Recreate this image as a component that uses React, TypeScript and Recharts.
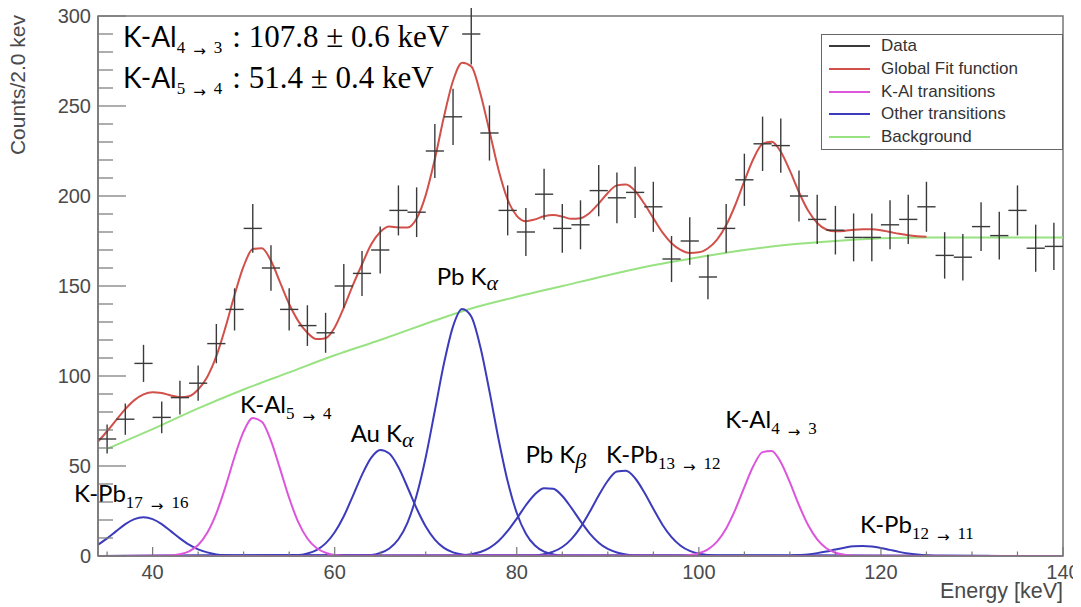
import React from 'react';
import {
  ComposedChart,
  Line,
  Scatter,
  ErrorBar,
  XAxis,
  YAxis,
  ReferenceArea,
  ReferenceDot,
  Legend,
} from 'recharts';

// ---------------- data ----------------
const BIN_CENTERS = [
  35, 37, 39, 41, 43, 45, 47, 49, 51, 53, 55, 57, 59, 61, 63, 65, 67, 69, 71, 73, 75, 77, 79, 81, 83, 85,
  87, 89, 91, 93, 95, 97, 99, 101, 103, 105, 107, 109, 111, 113, 115, 117, 119, 121, 123, 125, 127, 129,
  131, 133, 135, 137, 139,
];
const COUNTS = [
  65, 76, 107, 77, 88, 96, 118, 137, 182, 160, 137, 128, 124, 150, 157, 170, 192, 191, 225, 244, 290, 235,
  192, 180, 201, 182, 184, 203, 199, 202, 194, 165, 175, 155, 182, 209, 229, 228, 200, 187, 181, 177, 177,
  184, 187, 194, 167, 166, 183, 178, 192, 171, 172,
];
const COUNT_ERRORS = [
  8.1, 8.7, 10.3, 8.8, 9.4, 9.8, 10.9, 11.7, 13.5, 12.6, 11.7, 11.3, 11.1, 12.2, 12.5, 13.0, 13.9, 13.8,
  15.0, 15.6, 17.0, 15.3, 13.9, 13.4, 14.2, 13.5, 13.6, 14.2, 14.1, 14.2, 13.9, 12.8, 13.2, 12.4, 13.5,
  14.5, 15.1, 15.1, 14.1, 13.7, 13.5, 13.3, 13.3, 13.6, 13.7, 13.9, 12.9, 12.9, 13.5, 13.3, 13.9, 13.1, 13.1,
];
const BIN_HALF_WIDTH = 1;

const FIT_ENERGY = [
  34, 35, 36, 37, 38, 39, 40, 41, 42, 43, 44, 45, 46, 47, 48, 49, 50, 51, 52, 53, 54, 55, 56, 57, 58, 59,
  60, 61, 62, 63, 64, 65, 66, 67, 68, 69, 70, 71, 72, 73, 74, 75, 76, 77, 78, 79, 80, 81, 82, 83, 84, 85,
  86, 87, 88, 89, 90, 91, 92, 93, 94, 95, 96, 97, 98, 99, 100, 101, 102, 103, 104, 105, 106, 107, 108, 109,
  110, 111, 112, 113, 114, 115, 116, 117, 118, 119, 120, 121, 122, 123, 124, 125,
];
const FIT_COUNTS = [
  63.5, 69.3, 75.5, 81.6, 86.6, 89.8, 91.0, 90.5, 89.2, 88.2, 88.8, 92.5, 99.5, 111, 127, 145, 161, 170.5,
  171, 164, 152, 140, 130.5, 124, 120.5, 121, 127, 138, 150.5, 162, 173, 180, 183, 182.5, 182.5, 187.5,
  200.5, 220.5, 244, 264, 274, 272, 257, 236, 214.5, 198, 189, 186, 187, 188.7, 189.4, 188.6, 187.3, 187.7,
  190.6, 195.8, 201.7, 205.9, 206.4, 202.8, 195.8, 187.7, 179.8, 173.8, 170.1, 168.4, 168.7, 171, 175.8,
  183.7, 195, 208.3, 220.7, 228.9, 230.2, 224.6, 214.1, 202.1, 191.9, 185, 181.4, 180.4, 180.6, 181.2,
  181.5, 181.5, 181, 180, 179, 178.2, 177.7, 177.4,
];

const BACKGROUND: [number, number][] = [
  [35, 59.5], [40, 70.5], [45, 82], [50, 92.5], [55, 102], [60, 111.5], [65, 120], [70, 129], [75, 137.5],
  [80, 144], [85, 150], [90, 156], [95, 161.5], [100, 166], [105, 170], [110, 173], [115, 175], [120, 176.5],
  [125, 177], [130, 177], [135, 177], [140, 177],
];

// K-Al transitions (magenta)
const K_AL_5_4: [number, number][] = [
  [34, 0], [42, 0.3], [43, 0.95], [44, 2.6], [45, 6.1], [46, 12.9], [47, 23.7], [48, 38.4], [49, 55.0],
  [50, 69.2], [51, 76.6], [52, 74.6], [53, 64.0], [54, 48.4], [55, 32.2], [56, 18.8], [57, 9.7], [58, 4.4],
  [59, 1.8], [60, 0.6], [61, 0.2], [140, 0],
];
const K_AL_4_3: [number, number][] = [
  [34, 0], [98, 0.2], [99, 0.5], [100, 1.5], [101, 3.7], [102, 8.0], [103, 15.3], [104, 25.8], [105, 38.3],
  [106, 50.1], [107, 57.7], [108, 58.4], [109, 52.1], [110, 40.9], [111, 28.2], [112, 17.2], [113, 9.2],
  [114, 4.3], [115, 1.8], [116, 0.65], [117, 0.2], [140, 0],
];

// Other transitions (blue)
const K_PB_17_16: [number, number][] = [
  [34, 6.3], [35, 9.8], [36, 13.8], [37, 17.7], [38, 20.5], [39, 21.5], [40, 20.5], [41, 17.7], [42, 13.8],
  [43, 9.8], [44, 6.3], [45, 3.7], [46, 2.0], [47, 0.9], [48, 0.4], [49, 0.2], [140, 0],
];
const AU_K_ALPHA: [number, number][] = [
  [34, 0], [56, 0.5], [57, 1.4], [58, 3.3], [59, 7.0], [60, 13.2], [61, 22.1], [62, 33.4], [63, 45.1],
  [64, 54.5], [65, 58.9], [66, 56.9], [67, 49.3], [68, 38.2], [69, 26.4], [70, 16.4], [71, 9.1], [72, 4.5],
  [73, 2.0], [74, 0.8], [75, 0.3], [140, 0],
];
const PB_K_ALPHA: [number, number][] = [
  [34, 0], [64, 0.6], [65, 1.7], [66, 4.2], [67, 9.3], [68, 18.6], [69, 33.7], [70, 54.9], [71, 80.7],
  [72, 106.9], [73, 127.6], [74, 137.2], [75, 133.0], [76, 116.1], [77, 91.5], [78, 64.9], [79, 41.5],
  [80, 23.9], [81, 12.4], [82, 5.8], [83, 2.4], [84, 0.9], [85, 0.3], [140, 0],
];
const PB_K_BETA: [number, number][] = [
  [34, 0], [73, 0.1], [74, 0.4], [75, 1.0], [76, 2.2], [77, 4.5], [78, 8.3], [79, 13.9], [80, 20.8],
  [81, 28.2], [82, 34.3], [83, 37.7], [84, 37.3], [85, 33.3], [86, 26.7], [87, 19.4], [88, 12.6], [89, 7.4],
  [90, 3.9], [91, 1.9], [92, 0.8], [93, 0.3], [140, 0],
];
const K_PB_13_12: [number, number][] = [
  [34, 0], [82, 0.4], [83, 1.0], [84, 2.4], [85, 5.0], [86, 9.4], [87, 15.9], [88, 24.4], [89, 33.6],
  [90, 41.8], [91, 46.9], [92, 47.4], [93, 43.2], [94, 35.4], [95, 26.2], [96, 17.4], [97, 10.5], [98, 5.7],
  [99, 2.8], [100, 1.2], [101, 0.5], [102, 0.2], [140, 0],
];
const K_PB_12_11: [number, number][] = [
  [34, 0], [109, 0.1], [110, 0.2], [111, 0.5], [112, 0.9], [113, 1.6], [114, 2.5], [115, 3.6], [116, 4.6],
  [117, 5.4], [118, 5.6], [119, 5.3], [120, 4.5], [121, 3.4], [122, 2.3], [123, 1.4], [124, 0.8], [125, 0.4],
  [126, 0.2], [127, 0.1], [140, 0],
];

const X_DOMAIN: [number, number] = [34, 140];
const Y_DOMAIN: [number, number] = [0, 300];
const X_TICKS = [35, 40, 45, 50, 55, 60, 65, 70, 75, 80, 85, 90, 95, 100, 105, 110, 115, 120, 125, 130, 135, 140];
const X_LABEL_TICKS = [40, 60, 80, 100, 120, 140];
const Y_TICKS = [
  0, 10, 20, 30, 40, 50, 60, 70, 80, 90, 100, 110, 120, 130, 140, 150, 160, 170, 180, 190, 200, 210, 220,
  230, 240, 250, 260, 270, 280, 290, 300,
];
const Y_LABEL_TICKS = [0, 50, 100, 150, 200, 250, 300];

// annotation texts (anchor in data units: energy, counts)
const FIT_RESULTS = [
  { x: 36.75, y: 282.8, main: 'K-Al', from: '4', to: '3', text: ': 107.8 \u00b1 0.6 keV' },
  { x: 36.75, y: 260.2, main: 'K-Al', from: '5', to: '4', text: ': 51.4 \u00b1 0.4 keV' },
];
const TRANSITION_LABELS = [
  { x: 31.36, y: 30.2, main: 'K-Pb', from: '17', to: '16' },
  { x: 49.6, y: 79.6, main: 'K-Al', from: '5', to: '4' },
  { x: 89.8, y: 51.5, main: 'K-Pb', from: '13', to: '12' },
  { x: 102.9, y: 71.1, main: 'K-Al', from: '4', to: '3' },
  { x: 117.7, y: 12.8, main: 'K-Pb', from: '12', to: '11' },
];
const LINE_LABELS = [
  { x: 61.75, y: 63.5, main: 'Au K', greek: '\u03b1' },
  { x: 71.2, y: 150.6, main: 'Pb K', greek: '\u03b1' },
  { x: 80.95, y: 51.5, main: 'Pb K', greek: '\u03b2' },
];

// ---------------- styles ----------------
const DATA_COLOR = '#3a3a3a';
const FIT_COLOR = '#d2504a';
const KAL_COLOR = '#dc56dc';
const OTHER_COLOR = '#3b3bbb';
const BG_COLOR = '#98e282';
const AXIS_COLOR = '#777';
const TICK_TEXT = '#4a4a4a';
const ROOT_FONT = '"Liberation Sans", Arial, Helvetica, sans-serif';
const LABEL_FONT = 'Lato, "Open Sans", sans-serif';
const SERIF = '"Liberation Serif", "DejaVu Serif", serif';
const ARROW_FONT = '"DejaVu Sans", sans-serif';

const LEGEND_ITEMS = [
  { label: 'Data', color: DATA_COLOR },
  { label: 'Global Fit function', color: FIT_COLOR },
  { label: 'K-Al transitions', color: KAL_COLOR },
  { label: 'Other transitions', color: OTHER_COLOR },
  { label: 'Background', color: BG_COLOR },
];

const toPoints = (pairs: [number, number][]) => pairs.map(([x, y]) => ({ x, y }));
const dataPoints = BIN_CENTERS.map((x, i) => ({ x, y: COUNTS[i], ey: COUNT_ERRORS[i], ex: BIN_HALF_WIDTH }));
const fitPoints = FIT_ENERGY.map((x, i) => ({ x, y: FIT_COUNTS[i] }));

const COMPONENTS = [
  { key: 'kpb1716', pts: K_PB_17_16, color: OTHER_COLOR },
  { key: 'aukalpha', pts: AU_K_ALPHA, color: OTHER_COLOR },
  { key: 'pbkalpha', pts: PB_K_ALPHA, color: OTHER_COLOR },
  { key: 'pbkbeta', pts: PB_K_BETA, color: OTHER_COLOR },
  { key: 'kpb1312', pts: K_PB_13_12, color: OTHER_COLOR },
  { key: 'kpb1211', pts: K_PB_12_11, color: OTHER_COLOR },
  { key: 'kal54', pts: K_AL_5_4, color: KAL_COLOR },
  { key: 'kal43', pts: K_AL_4_3, color: KAL_COLOR },
];

// ---------------- renderers ----------------
const renderXTick = (props: any) => {
  const { x, y, payload } = props;
  const major = X_LABEL_TICKS.includes(payload.value);
  return (
    <g>
      <line x1={x} x2={x} y1={y} y2={y - (major ? 9 : 4.5)} stroke={AXIS_COLOR} strokeWidth={1.2} />
      {major && (
        <text x={x} y={y + 22.5} textAnchor="middle" fontFamily={ROOT_FONT} fontSize={20} fill={TICK_TEXT}>
          {payload.value}
        </text>
      )}
    </g>
  );
};

const renderYTick = (props: any) => {
  const { x, y, payload } = props;
  const major = Y_LABEL_TICKS.includes(payload.value);
  return (
    <g>
      <line x1={x} x2={x + (major ? 28 : 15)} y1={y} y2={y} stroke={AXIS_COLOR} strokeWidth={1.2} />
      {major && (
        <text x={x - 7} y={y + 7} textAnchor="end" fontFamily={ROOT_FONT} fontSize={20} fill={TICK_TEXT}>
          {payload.value}
        </text>
      )}
    </g>
  );
};

const renderYTitle = (props: any) => {
  const vb = props.viewBox;
  const x = vb.x + 25;
  const y = vb.y - 1;
  return (
    <text x={x} y={y} transform={`rotate(-90, ${x}, ${y})`} textAnchor="end" fontFamily={ROOT_FONT} fontSize={21} fill={TICK_TEXT}>
      Counts/2.0 kev
    </text>
  );
};

const renderXTitle = (props: any) => {
  const vb = props.viewBox;
  return (
    <text x={vb.x + vb.width} y={vb.y + 42} textAnchor="end" fontFamily={ROOT_FONT} fontSize={21.5} fill={TICK_TEXT}>
      Energy [keV]
    </text>
  );
};

const anchorOf = (props: any) => {
  const vb = props.viewBox || { x: 0, y: 0, width: 0, height: 0 };
  return { x: vb.x + (vb.width || 0) / 2, y: vb.y + (vb.height || 0) / 2 };
};

const transitionLabel = (main: string, from: string, to: string, mainSize: number, tail?: string) => (props: any) => {
  const { x, y } = anchorOf(props);
  return (
    <text x={x} y={y} fontFamily={LABEL_FONT} fontSize={mainSize} fill="#000">
      {main}
      <tspan fontFamily={SERIF} fontSize={17} dy={6}>{from}</tspan>
      <tspan fontFamily={ARROW_FONT} fontSize={15} dx={8} dy={3}>{'\u2192'}</tspan>
      <tspan fontFamily={SERIF} fontSize={17} dx={8} dy={-3}>{to}</tspan>
      {tail && (
        <tspan fontFamily={SERIF} fontSize={31} dx={10} dy={-6}>{tail}</tspan>
      )}
    </text>
  );
};

const greekLabel = (main: string, greek: string) => (props: any) => {
  const { x, y } = anchorOf(props);
  return (
    <text x={x} y={y} fontFamily={LABEL_FONT} fontSize={24} fill="#000">
      {main}
      <tspan fontFamily={SERIF} fontStyle="italic" fontSize={22} dy={5}>{greek}</tspan>
    </text>
  );
};

const renderLegend = () => (
  <div
    style={{
      width: 242,
      height: 116,
      boxSizing: 'border-box',
      border: '1.5px solid #666',
      background: '#fff',
      paddingTop: 0,
    }}
  >
    {LEGEND_ITEMS.map((item) => (
      <div
        key={item.label}
        style={{
          display: 'flex',
          alignItems: 'center',
          height: 22.7,
          fontFamily: ROOT_FONT,
          fontSize: 17,
          color: '#333',
          whiteSpace: 'nowrap',
        }}
      >
        <svg width={59} height={10} style={{ flex: 'none' }}>
          <line x1={7} x2={48} y1={5} y2={5} stroke={item.color} strokeWidth={2} />
        </svg>
        <span>{item.label}</span>
      </div>
    ))}
  </div>
);

const noShape = () => <g />;

export default function App() {
  return (
    <div style={{ width: 1081, height: 607, marginTop: -8, marginLeft: -8, background: '#fff' }}>
      <ComposedChart width={1081} height={607} margin={{ top: 16, right: 18, bottom: 6, left: 0 }}>
        <XAxis
          dataKey="x"
          type="number"
          domain={X_DOMAIN}
          allowDataOverflow
          ticks={X_TICKS}
          interval={0}
          height={45}
          tickLine={false}
          tickSize={0}
          tickMargin={0}
          tick={renderXTick}
          axisLine={{ stroke: AXIS_COLOR, strokeWidth: 1.5 }}
          label={renderXTitle}
        />
        <YAxis
          type="number"
          domain={Y_DOMAIN}
          allowDataOverflow
          ticks={Y_TICKS}
          interval={0}
          width={98}
          tickLine={false}
          tickSize={0}
          tickMargin={0}
          tick={renderYTick}
          axisLine={{ stroke: AXIS_COLOR, strokeWidth: 1.5 }}
          label={renderYTitle}
        />
        <ReferenceArea
          x1={X_DOMAIN[0]}
          x2={X_DOMAIN[1]}
          y1={Y_DOMAIN[0]}
          y2={Y_DOMAIN[1]}
          fill="none"
          fillOpacity={0}
          stroke={AXIS_COLOR}
          strokeWidth={1.5}
          ifOverflow="visible"
        />
        <Line
          data={toPoints(BACKGROUND)}
          dataKey="y"
          type="monotone"
          stroke={BG_COLOR}
          strokeWidth={2}
          dot={false}
          activeDot={false}
          isAnimationActive={false}
        />
        {COMPONENTS.map((c) => (
          <Line
            key={c.key}
            data={toPoints(c.pts)}
            dataKey="y"
            type="monotone"
            stroke={c.color}
            strokeWidth={2}
            dot={false}
            activeDot={false}
            isAnimationActive={false}
          />
        ))}
        <Line
          data={fitPoints}
          dataKey="y"
          type="monotone"
          stroke={FIT_COLOR}
          strokeWidth={2}
          dot={false}
          activeDot={false}
          isAnimationActive={false}
        />
        <Scatter data={dataPoints} dataKey="y" shape={noShape} isAnimationActive={false}>
          <ErrorBar dataKey="ey" direction="y" width={0} stroke={DATA_COLOR} strokeWidth={1.4} />
          <ErrorBar dataKey="ex" direction="x" width={0} stroke={DATA_COLOR} strokeWidth={1.4} />
        </Scatter>
        {FIT_RESULTS.map((a, i) => (
          <ReferenceDot
            key={`fr${i}`}
            x={a.x}
            y={a.y}
            r={0}
            fill="none"
            stroke="none"
            ifOverflow="visible"
            label={transitionLabel(a.main, a.from, a.to, 28, a.text)}
          />
        ))}
        {TRANSITION_LABELS.map((a, i) => (
          <ReferenceDot
            key={`tl${i}`}
            x={a.x}
            y={a.y}
            r={0}
            fill="none"
            stroke="none"
            ifOverflow="visible"
            label={transitionLabel(a.main, a.from, a.to, 24)}
          />
        ))}
        {LINE_LABELS.map((a, i) => (
          <ReferenceDot
            key={`ll${i}`}
            x={a.x}
            y={a.y}
            r={0}
            fill="none"
            stroke="none"
            ifOverflow="visible"
            label={greekLabel(a.main, a.greek)}
          />
        ))}
        <Legend
          layout="vertical"
          align="center"
          verticalAlign="middle"
          wrapperStyle={{ left: 821, top: 34, width: 242, height: 116 }}
          content={renderLegend}
        />
      </ComposedChart>
    </div>
  );
}
